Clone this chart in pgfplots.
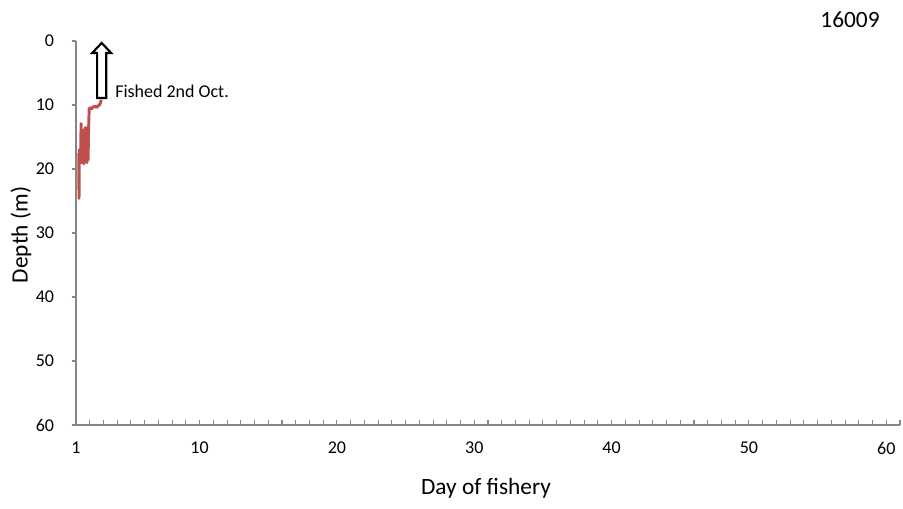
\documentclass[border=0pt]{standalone}
\usepackage{fontspec}
\setmainfont{Carlito}
\usepackage{pgfplots}
\pgfplotsset{compat=1.18}
\definecolor{axgray}{HTML}{868686}
\definecolor{exred}{HTML}{C0504D}
\begin{document}
\begin{tikzpicture}
\path[use as bounding box] (-57pt,-63pt) rectangle (620.25pt,318.75pt);
\begin{axis}[
  scale only axis,
  width=618pt, height=288pt,
  xmin=1, xmax=61,
  ymin=0, ymax=60,
  y dir=reverse,
  axis x line*=bottom,
  axis y line*=left,
  axis line style={axgray, line width=0.8pt},
  xtick={1,10,20,30,40,50,60},
  minor xtick={2,3,...,61},
  ytick={0,10,...,60},
  xtick align=inside,
  ytick align=outside,
  major x tick style={draw=none},
  minor x tick style={axgray, line width=0.8pt},
  minor tick length=3.75pt,
  major y tick style={axgray, line width=0.8pt},
  major tick length=3pt,
  /pgf/number format/assume math mode=true,
  ticklabel style={font=\fontsize{13.5}{16}\selectfont},
  xticklabel style={inner sep=0pt, anchor=north, yshift=-12.5pt},
  yticklabel style={inner sep=0pt, anchor=east, xshift=-13.25pt},
  clip=false,
]
\addplot[exred, line width=2.2pt, line join=round] coordinates {
(1.20,17.5) (1.22,24.6) (1.23,21.0) (1.25,17.0) (1.28,18.5) (1.31,16.8)
(1.34,17.6) (1.37,12.9) (1.40,17.2) (1.42,19.0) (1.45,15.8) (1.48,18.5)
(1.51,17.0) (1.55,14.0) (1.58,19.2) (1.61,13.8) (1.65,18.8) (1.68,13.5)
(1.72,16.0) (1.76,13.6) (1.80,19.0) (1.84,14.0) (1.88,18.6) (1.92,13.5)
(1.96,10.6) (2.05,10.4) (2.15,10.6) (2.25,10.3) (2.38,10.2) (2.50,10.4)
(2.62,10.1) (2.72,10.0) (2.78,9.6) (2.85,9.2)
};
\draw[black, line width=1.6pt, fill=white, line join=miter]
  (axis cs:2.87,8.9) ++(-3.4pt,0pt) -- ++(0pt,33.75pt) -- ++(-3.7pt,0pt)
  -- ++(7.1pt,7.5pt) -- ++(7.1pt,-7.5pt) -- ++(-3.7pt,0pt) -- ++(0pt,-33.75pt) -- cycle;
\node[anchor=base west, inner sep=0pt, font=\fontsize{13.5}{16}\selectfont]
  at (axis cs:3.84,8.86) {Fished 2nd Oct.};
\end{axis}
\node[anchor=base, font=\fontsize{17.5}{20}\selectfont] at (307.5pt,-52.5pt) {Day of fishery};
\node[anchor=base, rotate=90, font=\fontsize{17.5}{20}\selectfont] at (-36.2pt,142.5pt) {Depth (m)};
\node[anchor=base, font=\fontsize{17.5}{20}\selectfont] at (580.5pt,298.3pt) {16009};
\end{tikzpicture}
\end{document}
